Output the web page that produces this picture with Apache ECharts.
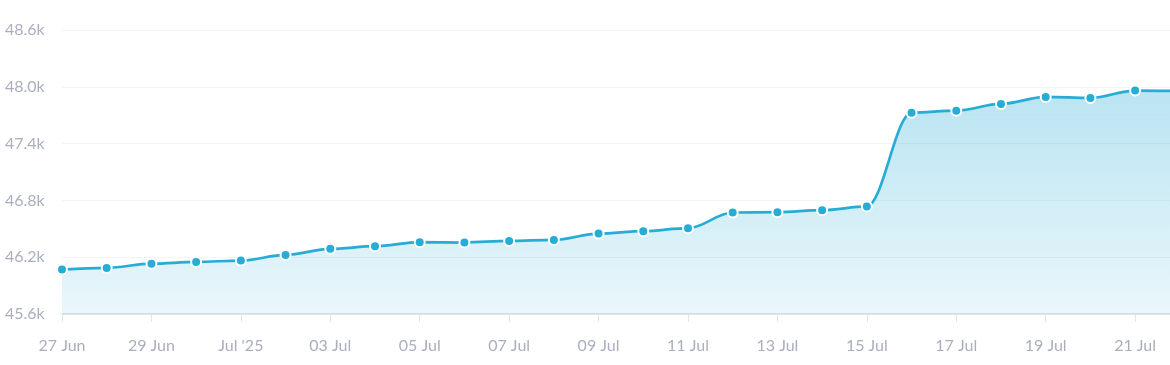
<!DOCTYPE html>
<html>
<head>
<meta charset="utf-8">
<script src="https://cdn.jsdelivr.net/npm/echarts@6/dist/echarts.min.js"></script>
<style>
html,body{margin:0;padding:0;background:#fff;}
#chart{width:1170px;height:365px;}
</style>
</head>
<body>
<div id="chart"></div>
<script>
var categories = ['27 Jun','28 Jun','29 Jun','30 Jun','01 Jul','02 Jul','03 Jul','04 Jul','05 Jul','06 Jul','07 Jul','08 Jul','09 Jul','10 Jul','11 Jul','12 Jul','13 Jul','14 Jul','15 Jul','16 Jul','17 Jul','18 Jul','19 Jul','20 Jul','21 Jul','22 Jul'];
var values = [46069,46087,46132,46150,46164,46224,46288,46316,46359,46355,46372,46383,46450,46475,46507,46672,46676,46697,46736,47727,47748,47819,47893,47882,47960,47955];
var xTickLabels = ['27 Jun','29 Jun',"Jul '25",'03 Jul','05 Jul','07 Jul','09 Jul','11 Jul','13 Jul','15 Jul','17 Jul','19 Jul','21 Jul'];
var yTicks = [45600,46200,46800,47400,48000,48600];

var chart = echarts.init(document.getElementById('chart'));
var seriesData = values.map(function(v,i){return [i,v];});
var labelColor = '#a9afbe';
chart.setOption({
  animation:false,
  grid:{left:62,right:0,top:30,bottom:51,containLabel:false},
  xAxis:{
    type:'value',min:0,max:24.78,interval:2,
    axisLine:{show:true,lineStyle:{color:'#e4e4e6',width:2}},
    axisTick:{show:true,length:8,lineStyle:{color:'#e4e4e6',width:1}},
    splitLine:{show:false},
    axisLabel:{
      color:labelColor,fontFamily:'Lato',fontSize:16,margin:24,showMaxLabel:false,
      formatter:function(v){var k=Math.round(v); if(k%2!==0||Math.abs(v-k)>1e-6)return ''; return xTickLabels[k/2]||'';}
    }
  },
  yAxis:{
    type:'value',min:yTicks[0],max:yTicks[yTicks.length-1],interval:600,
    axisLine:{show:false},axisTick:{show:false},
    splitLine:{show:true,lineStyle:{color:'#f3f4f7',width:1}},
    axisLabel:{
      color:labelColor,fontFamily:'Lato',fontSize:16,align:'left',margin:57,
      padding:[0,0,6,0],
      formatter:function(v){return (v/1000).toFixed(1)+'k';}
    }
  },
  series:[{
    type:'line',data:seriesData,smooth:0.35,smoothMonotone:'x',clip:true,
    symbol:'circle',symbolSize:10,showSymbol:true,
    lineStyle:{color:'#27acd6',width:2.7},
    itemStyle:{color:'#27acd6',borderColor:'#ffffff',borderWidth:2},
    areaStyle:{color:new echarts.graphic.LinearGradient(0,0,0,1,[
      {offset:0,color:'rgba(39,172,214,0.46)'},
      {offset:1,color:'rgba(39,172,214,0.14)'}
    ])}
  }]
});
</script>
</body>
</html>
